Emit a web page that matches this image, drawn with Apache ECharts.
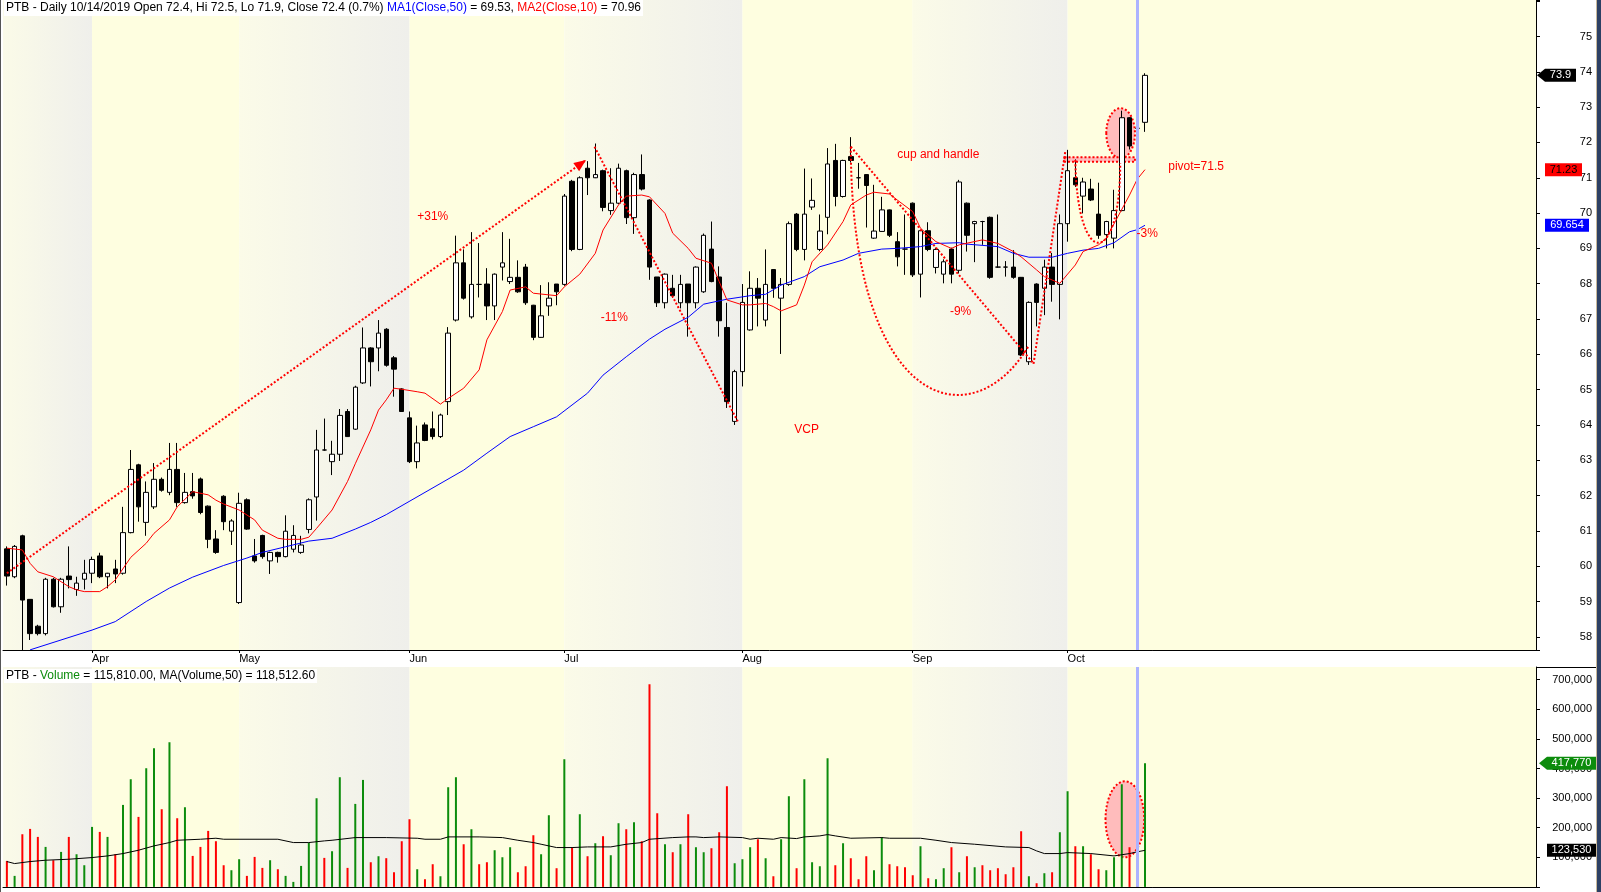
<!DOCTYPE html>
<html>
<head>
<meta charset="utf-8">
<title>PTB - Daily</title>
<script src="https://cdn.jsdelivr.net/npm/echarts@6/dist/echarts.min.js"></script>
<style>
  html, body { margin: 0; padding: 0; background: #fff; }
  #chart { width: 1601px; height: 892px; }
</style>
</head>
<body>
<div id="chart"></div>
<script>
// daily bars, 15 Mar .. 15 Oct 2019
const opens = [
  60.49,59.70,60.86,59.06,58.30,58.09,59.63,58.85,59.72,59.34,
  59.63,59.80,60.29,59.70,59.92,59.80,60.95,62.87,61.24,61.68,
  62.46,62.09,62.74,61.80,62.11,62.47,61.70,60.77,61.98,60.99,
  58.97,61.88,60.29,60.87,60.15,60.39,60.27,60.48,60.39,61.04,
  61.96,63.29,62.96,63.17,64.38,63.88,65.19,66.18,66.18,66.71,
  65.90,65.02,64.20,62.96,64.00,63.89,63.67,64.66,66.97,68.59,
  67.06,67.98,67.99,67.37,68.47,68.06,68.18,68.47,67.39,66.48,
  67.37,67.99,67.98,70.90,68.97,71.27,71.00,71.20,70.07,70.28,
  71.20,69.87,71.09,70.37,68.19,67.46,67.87,67.46,67.99,67.46,
  67.77,68.98,68.19,66.76,64.10,65.51,66.69,67.87,66.97,68.40,
  67.59,67.98,69.97,68.97,70.17,68.97,69.88,71.49,70.47,71.60,
  71.00,71.09,69.29,69.48,70.09,69.19,68.98,70.28,68.27,69.50,
  68.46,68.27,68.98,68.38,70.28,69.70,69.76,69.88,68.47,68.47,
  68.47,68.18,65.79,67.99,67.87,68.47,67.98,69.70,71.00,70.48,
  70.68,69.97,69.39,69.29,70.07,72.70,72.40,72.57
];
const closes = [
  59.72,60.56,59.04,58.09,58.09,59.63,58.85,59.63,59.62,59.52,
  59.80,60.19,59.70,59.80,59.78,60.95,62.74,61.68,62.09,62.46,
  62.15,62.74,61.80,62.09,61.99,61.52,60.76,60.39,61.26,61.28,
  61.78,61.05,60.15,60.27,60.39,60.27,60.99,60.87,60.60,61.88,
  63.29,63.29,63.17,64.27,63.67,65.07,66.18,65.79,66.60,65.69,
  65.58,64.38,62.96,63.49,63.56,63.67,64.28,66.60,68.59,67.59,
  67.98,67.98,67.37,68.27,68.59,68.18,67.77,67.46,66.48,67.09,
  67.59,67.77,70.48,68.97,71.00,71.00,71.09,70.16,70.28,71.27,
  69.87,71.09,70.68,68.47,67.46,68.27,67.66,67.98,67.46,68.47,
  69.37,68.06,66.95,64.66,65.51,67.47,67.87,67.59,67.98,67.87,
  67.98,69.70,68.97,69.97,70.36,69.49,71.39,70.47,71.49,71.49,
  71.00,70.78,69.49,70.09,69.37,68.76,68.98,68.25,69.50,68.97,
  68.97,68.62,68.27,70.88,69.37,69.76,69.76,68.18,68.47,68.47,
  68.18,65.98,67.47,67.47,68.47,67.98,69.70,71.20,70.80,70.88,
  70.37,69.37,69.76,70.07,72.70,71.90,72.40,73.90
];
const lows = [
  59.45,59.66,57.60,57.91,58.04,58.04,58.83,58.68,59.37,59.16,
  59.34,59.52,59.66,59.37,59.52,59.76,60.93,61.26,60.86,61.62,
  62.11,62.01,61.68,61.77,61.91,61.47,60.51,60.35,61.02,60.60,
  58.93,61.03,60.10,60.21,59.78,60.10,60.25,60.39,60.35,60.93,
  61.29,63.27,62.58,62.98,63.66,63.86,65.16,65.09,65.52,65.65,
  64.80,64.37,62.92,62.77,63.54,63.59,63.63,64.28,66.93,67.55,
  67.01,67.61,66.97,66.97,68.09,67.99,67.74,67.40,66.40,66.47,
  67.09,67.39,67.94,68.92,68.95,70.51,70.99,70.05,69.95,70.25,
  69.69,69.41,70.64,68.11,67.34,67.30,67.60,67.30,66.50,67.30,
  67.74,68.04,66.50,64.48,64.00,65.09,66.67,66.79,66.79,67.60,
  66.01,67.94,68.92,68.66,70.09,68.92,69.40,70.19,70.44,71.43,
  70.69,69.59,69.27,69.47,69.32,68.49,68.25,68.19,67.61,68.92,
  68.29,68.01,68.01,68.29,68.91,68.61,69.10,68.14,68.45,68.20,
  68.14,65.95,65.70,66.79,67.11,67.49,66.99,69.19,70.74,69.99,
  70.34,69.27,69.00,69.00,70.05,71.80,71.90,72.30
];
const highs = [
  60.56,60.60,60.89,59.07,58.34,59.67,59.67,59.67,60.56,59.70,
  60.18,60.27,60.38,59.81,60.18,61.68,63.29,62.90,62.40,62.92,
  62.51,63.49,63.49,62.64,62.64,62.51,61.72,61.02,62.01,61.33,
  62.08,61.92,60.77,60.89,60.41,60.41,61.44,61.16,60.86,61.92,
  63.86,64.18,63.55,64.45,64.45,65.11,66.76,66.20,66.97,66.74,
  65.95,65.04,64.38,63.98,64.07,64.38,64.32,66.77,69.36,68.97,
  69.46,69.15,68.44,68.29,69.46,69.27,68.66,68.56,67.40,67.96,
  68.04,67.99,70.54,70.94,71.04,71.47,71.97,71.23,71.27,71.40,
  71.23,71.14,71.66,70.39,68.19,68.29,68.25,68.25,67.99,68.49,
  69.42,69.76,68.49,67.46,65.56,67.99,68.35,68.16,68.97,68.41,
  68.16,69.76,70.00,71.26,70.98,69.96,71.84,71.96,71.51,72.15,
  71.42,71.10,70.80,70.46,70.10,69.46,69.96,70.30,69.52,69.74,
  69.02,68.69,69.02,70.94,70.30,69.78,69.78,69.90,69.96,68.64,
  68.95,68.19,67.50,68.01,68.68,68.87,69.96,71.79,71.52,71.00,
  70.97,70.86,69.78,70.66,72.90,72.72,72.50,73.96
];
const volumes = [
  87800,37200,177900,195900,168900,135100,90100,118200,168900,110300,
  73200,202700,185800,168900,110300,277000,363700,236500,400900,468400,
  262400,488700,232000,269100,104700,135100,189200,154300,73200,56300,
  93500,37200,101300,64200,90100,59700,37200,16900,70900,148600,
  299500,98000,120500,370500,64200,280400,361400,83300,103600,97000,
  49500,154300,228600,59700,25900,76600,36000,336700,370500,144100,
  194800,76600,83300,123900,100200,134000,49500,69800,174500,110300,
  242100,63100,431300,132900,245500,103600,147500,171200,107000,215100,
  194800,218400,154300,684600,248800,144100,117100,144100,245500,134000,
  117100,130600,184700,340100,79900,93500,134000,161000,96800,36000,
  161000,306300,63100,363700,83300,69800,434600,73200,147500,96800,
  25900,103600,56300,167800,76600,69800,66400,39400,137400,29300,
  25900,63100,134000,49500,103600,66400,73200,56300,63100,42800,
  66400,188000,36000,12400,46200,49500,184700,323200,137400,137400,
  110300,59700,56300,100200,346800,134000,115810,417770
];

// moving averages: [bar number, value]
const ma50 = [[4,57.63],[12,58.19],[15,58.43],[19,59.00],[22,59.38],[25,59.69],[29,60.02],[32,60.23],
  [34,60.39],[37,60.55],[40,60.71],[43,60.79],[46,61.05],[48,61.24],[50,61.46],[60,62.72],[63,63.20],
  [66,63.67],[69,63.95],[72,64.23],[76,64.90],[78,65.41],[81,65.93],[84,66.43],[86,66.71],[89,67.05],
  [91,67.42],[94,67.56],[97,67.66],[99,67.70],[101,67.96],[104,68.20],[106,68.48],[109,68.67],
  [111,68.86],[114,68.98],[116,69.00],[119,69.05],[121,69.14],[124,69.16],[125,69.12],[129,69.05],
  [131,68.86],[133,68.75],[136,68.75],[138,68.86],[140,68.95],[142,69.00],[144,69.16],[146,69.47],
  [147,69.53],[148,69.654]];
const ma10 = [[1,60.51],[3,60.46],[4,60.08],[5,59.84],[7,59.70],[9,59.42],[10,59.33],[11,59.28],
  [13,59.28],[14,59.42],[15,59.61],[17,60.25],[19,60.65],[20,60.93],[22,61.31],[23,61.68],[25,62.11],
  [27,62.02],[28,61.87],[29,61.76],[31,61.59],[33,61.31],[34,61.02],[36,60.79],[37,60.76],[39,60.76],
  [40,60.82],[41,61.07],[43,61.59],[45,62.40],[46,62.90],[48,63.86],[49,64.42],[50,64.71],[51,65.04],
  [52,65.01],[54,64.94],[55,64.90],[57,64.59],[58,64.75],[60,65.04],[62,65.56],[63,66.41],[65,67.21],
  [66,67.82],[68,67.91],[69,67.73],[72,67.66],[73,67.91],[75,68.27],[77,68.86],[78,69.52],[80,70.23],
  [81,70.48],[83,70.51],[84,70.46],[86,69.99],[87,69.43],[89,69.00],[90,68.72],[92,68.58],[93,68.06],
  [94,67.54],[96,67.40],[97,67.40],[99,67.44],[100,67.35],[101,67.23],[103,67.40],[104,67.96],
  [105,68.62],[107,69.10],[109,69.76],[110,70.23],[112,70.51],[113,70.59],[115,70.54],[116,70.37],
  [118,70.04],[119,69.57],[121,69.19],[123,69.00],[124,69.10],[127,69.24],[129,69.14],[131,68.91],
  [132,68.76],[134,68.39],[135,68.20],[137,68.01],[139,68.53],[140,68.91],[142,69.10],[143,69.29],
  [146,70.51],[147,70.96],[148,71.23]];
const volMa50 = [[1,85600],[2,78800],[4,85600],[6,90100],[9,93500],[12,99100],[14,104700],[16,112600],
  [18,123900],[20,138500],[22,149800],[23,157600],[26,161000],[28,164400],[29,161000],[36,161000],
  [38,149800],[40,149800],[42,155400],[43,157600],[46,166600],[50,166600],[54,164400],[55,161000],
  [57,161000],[58,168900],[62,168900],[65,166600],[67,157600],[69,149800],[70,144100],[71,138500],
  [72,132900],[74,132900],[76,135100],[79,135100],[81,144100],[83,149800],[84,161000],[87,166600],
  [89,168900],[90,168900],[91,166600],[93,168900],[96,166600],[97,161000],[98,164400],[100,161000],
  [101,166600],[103,163300],[104,168900],[106,172300],[107,176800],[108,172300],[110,164400],
  [114,166600],[115,164400],[119,164400],[121,157600],[123,149800],[126,144100],[130,135100],
  [133,132900],[134,121600],[135,112600],[137,112600],[138,116000],[141,112600],[144,104700],
  [146,112600],[147,118512.6],[148,123530]];

// axis: first bar of each month, slots incl. empty right margin
const monthStarts = [11, 30, 52, 72, 95, 117, 137];
const monthNames = ['Apr', 'May', 'Jun', 'Jul', 'Aug', 'Sep', 'Oct'];
const totalSlots = 198;
const cursorBar = 146;
const cursorDate = '10/14/2019';

// hand drawn notes, [bar position, price]
const trendUp = [[0, 59.80], [74.8, 71.50]];
const vcpLeg = [[75.9, 71.88], [94.4, 64.10]];
const cupLeg = [[109.0, 71.88], [132.5, 65.77]];
const cupRise = [[132.6, 65.73], [136.7, 71.74]];
const cupCurve = [[109.0, 71.88], [109.1, 64.42], [124.6, 63.57], [131.9, 66.21]];
const handleCurve = [[138.0, 71.50], [138.2, 68.39], [143.8, 68.39], [143.8, 71.42]];
const pivotBox = [[136.6, 71.58], [145.7, 71.45]];
const breakoutPrice = [[142.0, 72.97], [145.7, 71.55]];
const breakoutVolume = [[141.9, 356800], [146.9, 100000]];
const notes = [['+31%', 53.0, 69.90], ['-11%', 76.7, 67.04], ['VCP', 101.7, 63.86],
  ['cup and handle', 115.0, 71.64], ['-9%', 121.8, 67.21], ['pivot=71.5', 150.0, 71.31], ['-3%', 145.9, 69.43]];

const FONT = '"Liberation Sans", Arial, sans-serif';
const RED = '#ff0000';
const GREEN = '#0c8c0c';
const slots = Array.from({ length: totalSlots }, (_, i) => String(i));
const isMonthStart = (i) => monthStarts.indexOf(i) >= 0;
const valueAt = (list, n) => list.find(p => p[0] === n)[1];
const toPairs = (list) => list.map(([n, v]) => [String(n - 1), v]);

function bands() {
  const edges = [null].concat(monthStarts, [null]);
  const out = [];
  for (let k = 0; k < edges.length - 1; k++) {
    const a = edges[k] == null ? {} : { xAxis: String(edges[k]) };
    const b = edges[k + 1] == null ? {} : { xAxis: String(edges[k + 1]) };
    a.itemStyle = {
      color: k % 2 === 0
        ? { type: 'linear', x: 0, y: 0, x2: 1, y2: 0,
            colorStops: [{ offset: 0, color: '#fbfbe8' }, { offset: 1, color: '#efefeb' }] }
        : '#fefee0'
    };
    out.push([a, b]);
  }
  return out;
}
const cursor = {
  silent: true, symbol: ['none', 'none'], label: { show: false },
  lineStyle: { color: '#acb3ff', width: 3, type: 'solid' },
  data: [{ xAxis: String(cursorBar) }]
};

const bar = cursorBar;
const pct = ((closes[bar] / closes[bar - 1] - 1) * 100).toFixed(1);
const money = (v) => v.toLocaleString('en-US', { minimumFractionDigits: 2, maximumFractionDigits: 2 });
const head = 'PTB - Daily ' + cursorDate + ' Open ' + opens[bar] + ', Hi ' + highs[bar] + ', Lo ' + lows[bar] +
  ', Close ' + closes[bar] + ' (' + pct + '%) ';
const rich = {
  k: { color: '#000', fontFamily: FONT, fontSize: 12 },
  b: { color: '#0000ff', fontFamily: FONT, fontSize: 12 },
  r: { color: RED, fontFamily: FONT, fontSize: 12 },
  g: { color: GREEN, fontFamily: FONT, fontSize: 12 }
};

const chart = echarts.init(document.getElementById('chart'));
chart.setOption({
  animation: false,
  backgroundColor: '#ffffff',
  title: [
    { left: 4, top: 0, padding: [2, 2, 2, 2], backgroundColor: '#fff', z: 20,
      text: '{k|' + head + '}{b|MA1(Close,50)}{k| = ' + valueAt(ma50, bar + 1) + ', }{r|MA2(Close,10)}{k| = ' + valueAt(ma10, bar + 1) + '}',
      textStyle: { fontFamily: FONT, fontSize: 12, fontWeight: 'normal', rich: rich } },
    { left: 4, top: 669, padding: [1, 2, 1, 2], backgroundColor: '#fff', z: 20,
      text: '{k|PTB - }{g|Volume}{k| = ' + money(volumes[bar]) + ', MA(Volume,50) = ' + money(valueAt(volMa50, bar + 1)) + '}',
      textStyle: { fontFamily: FONT, fontSize: 12, fontWeight: 'normal', rich: rich } }
  ],
  grid: [
    { left: 3, right: 65, top: 0, height: 650, containLabel: false, outerBoundsMode: 'none' },
    { left: 3, right: 65, top: 667, height: 219.9, containLabel: false, outerBoundsMode: 'none' }
  ],
  xAxis: [
    { type: 'category', gridIndex: 0, data: slots, boundaryGap: true, z: 10,
      axisLine: { lineStyle: { color: '#000', width: 1 } },
      axisTick: { show: true, interval: isMonthStart, alignWithLabel: true, length: 3, lineStyle: { color: '#000' } },
      axisLabel: { interval: isMonthStart, formatter: (v) => monthNames[monthStarts.indexOf(Number(v))] || '',
        align: 'left', margin: 3, color: '#000', fontSize: 11, fontFamily: FONT },
      splitLine: { show: false } },
    { type: 'category', gridIndex: 1, data: slots, boundaryGap: true, position: 'top', z: 10,
      axisLine: { lineStyle: { color: '#000', width: 1 } },
      axisTick: { show: false }, axisLabel: { show: false }, splitLine: { show: false } }
  ],
  yAxis: [
    { type: 'value', gridIndex: 0, position: 'right', min: 57.626, max: 76.034,
      splitNumber: 18, minInterval: 1, maxInterval: 1, z: 10,
      axisLine: { show: true, lineStyle: { color: '#000' } },
      axisTick: { show: true, length: 4, lineStyle: { color: '#000' } },
      axisLabel: { formatter: (v) => (Math.abs(v - Math.round(v)) < 1e-6 && v <= 75) ? String(Math.round(v)) : '',
        align: 'right', margin: 56, color: '#000', fontSize: 11, fontFamily: FONT },
      splitLine: { show: false } },
    { type: 'value', gridIndex: 1, position: 'right', min: 0, max: 742900, interval: 100000, z: 10,
      axisLine: { show: true, lineStyle: { color: '#000' } },
      axisTick: { show: true, length: 4, lineStyle: { color: '#000' } },
      axisLabel: { formatter: (v) => (v > 0 && v <= 700000 && v % 100000 === 0) ? v.toLocaleString('en-US') : '',
        align: 'right', margin: 56, color: '#000', fontSize: 11, fontFamily: FONT },
      splitLine: { show: false } }
  ],
  series: [
    { type: 'candlestick', name: 'PTB', xAxisIndex: 0, yAxisIndex: 0, z: 3, silent: true,
      data: opens.map((o, i) => [o, closes[i], lows[i], highs[i]]),
      barWidth: 5,
      itemStyle: { color: '#ffffff', color0: '#000000', borderColor: '#000000', borderColor0: '#000000',
        borderColorDoji: '#000000', borderWidth: 1 },
      markArea: { silent: true, z: 1, label: { show: false }, data: bands() },
      markLine: cursor },
    { type: 'line', name: 'MA1', xAxisIndex: 0, yAxisIndex: 0, z: 4, silent: true,
      data: toPairs(ma50), symbol: 'none', lineStyle: { color: '#0000ff', width: 1 } },
    { type: 'line', name: 'MA2', xAxisIndex: 0, yAxisIndex: 0, z: 4, silent: true,
      data: toPairs(ma10), symbol: 'none', lineStyle: { color: RED, width: 1 } },
    { type: 'bar', name: 'Volume', xAxisIndex: 1, yAxisIndex: 1, z: 3, silent: true, barWidth: 2,
      data: volumes.map((v, i) => ({ value: v, itemStyle: { color: closes[i] > opens[i] ? GREEN : RED } })) },
    { type: 'line', name: 'MA(Volume,50)', xAxisIndex: 1, yAxisIndex: 1, z: 4, silent: true,
      data: toPairs(volMa50), symbol: 'none', lineStyle: { color: '#000', width: 1 },
      markArea: { silent: true, z: 1, label: { show: false }, data: bands() },
      markLine: cursor }
  ]
});

// pixel of a (possibly fractional) bar position through the axes
function at(seriesIndex, idx, val) {
  const a = chart.convertToPixel({ seriesIndex: seriesIndex }, ['0', val]);
  const b = chart.convertToPixel({ seriesIndex: seriesIndex }, ['1', val]);
  return [a[0] + idx * (b[0] - a[0]), a[1]];
}
const dash = { stroke: RED, lineWidth: 2, lineDash: [2, 2], fill: 'none' };
function seg(pts) {
  const p = at(0, pts[0][0], pts[0][1]), q = at(0, pts[1][0], pts[1][1]);
  return { type: 'line', z: 20, silent: true, shape: { x1: p[0], y1: p[1], x2: q[0], y2: q[1] }, style: dash };
}
function curve(pts) {
  const c = pts.map(([i, v]) => at(0, i, v));
  return { type: 'bezierCurve', z: 20, silent: true,
    shape: { x1: c[0][0], y1: c[0][1], cpx1: c[1][0], cpy1: c[1][1], cpx2: c[2][0], cpy2: c[2][1], x2: c[3][0], y2: c[3][1] },
    style: dash };
}
function oval(seriesIndex, box) {
  const a = at(seriesIndex, box[0][0], box[0][1]), b = at(seriesIndex, box[1][0], box[1][1]);
  return { type: 'ellipse', z: 2.5, silent: true,
    shape: { cx: (a[0] + b[0]) / 2, cy: (a[1] + b[1]) / 2, rx: Math.abs(b[0] - a[0]) / 2, ry: Math.abs(b[1] - a[1]) / 2 },
    style: { fill: '#ffbcbc', stroke: RED, lineWidth: 2, lineDash: [2, 2] } };
}
function arrowHead(pts) {
  const p = at(0, pts[0][0], pts[0][1]), q = at(0, pts[1][0], pts[1][1]);
  const ang = Math.atan2(q[1] - p[1], q[0] - p[0]);
  const L = 12, W = 5, c = Math.cos(ang), s = Math.sin(ang);
  return { type: 'polygon', z: 20, silent: true, style: { fill: RED },
    shape: { points: [[q[0], q[1]], [q[0] - L * c + W * s, q[1] - L * s - W * c], [q[0] - L * c - W * s, q[1] - L * s + W * c]] } };
}
function label(t, i, v) {
  const p = at(0, i, v);
  return { type: 'text', z: 20, silent: true, x: p[0], y: p[1],
    style: { text: t, fill: RED, font: '12px ' + FONT, verticalAlign: 'middle', textVerticalAlign: 'middle' } };
}
const axisX = chart.getWidth() - 65;
function tag(seriesIndex, value, text, bg, fg, arrow, x0, x1) {
  const y = chart.convertToPixel({ seriesIndex: seriesIndex }, ['0', value])[1];
  const h = 6.5, l = axisX + x0, r = axisX + x1;
  const pts = arrow
    ? [[l - 8, y], [l, y - h], [r, y - h], [r, y + h], [l, y + h]]
    : [[l, y - h], [r, y - h], [r, y + h], [l, y + h]];
  return [
    { type: 'polygon', z: 30, silent: true, shape: { points: pts }, style: { fill: bg } },
    { type: 'text', z: 31, silent: true, x: (l + r) / 2, y: y,
      style: { text: text, fill: fg, font: '11px ' + FONT, align: 'center', verticalAlign: 'middle',
        textAlign: 'center', textVerticalAlign: 'middle' } }
  ];
}
const pa = at(0, pivotBox[0][0], pivotBox[0][1]), pb = at(0, pivotBox[1][0], pivotBox[1][1]);
const last = closes.length - 1;
const elements = [
  oval(0, breakoutPrice),
  oval(3, breakoutVolume),
  { type: 'rect', z: 2.5, silent: true, shape: { x: pa[0], y: pa[1], width: pb[0] - pa[0], height: pb[1] - pa[1] },
    style: { fill: '#ffbcbc', stroke: RED, lineWidth: 2, lineDash: [2, 2] } },
  seg(trendUp), arrowHead(trendUp), seg(vcpLeg), seg(cupLeg), seg(cupRise),
  curve(cupCurve), curve(handleCurve)
].concat(notes.map(n => label(n[0], n[1], n[2])))
 .concat(tag(0, closes[last], String(closes[last]), '#000', '#fff', true, 9, 40))
 .concat(tag(0, ma10[ma10.length - 1][1], String(ma10[ma10.length - 1][1]), RED, '#000', false, 9, 46))
 .concat(tag(0, ma50[ma50.length - 1][1], String(ma50[ma50.length - 1][1]), '#0000ff', '#fff', false, 9, 53))
 .concat(tag(3, volumes[last], volumes[last].toLocaleString('en-US'), GREEN, '#fff', true, 11, 60))
 .concat(tag(3, volMa50[volMa50.length - 1][1], volMa50[volMa50.length - 1][1].toLocaleString('en-US'), '#000', '#fff', false, 11, 60))
 .concat([
  { type: 'line', z: 10, silent: true, shape: { x1: axisX, y1: 667.5, x2: 1597, y2: 667.5 }, style: { stroke: '#000', lineWidth: 1 } },
  { type: 'rect', z: 40, silent: true, shape: { x: 0, y: 0, width: 1, height: 892 }, style: { fill: '#555' } },
  { type: 'rect', z: 40, silent: true, shape: { x: 1596, y: 0, width: 1, height: 892 }, style: { fill: '#c8b89a' } },
  { type: 'rect', z: 40, silent: true, shape: { x: 1597, y: 0, width: 4, height: 892 }, style: { fill: '#2d4064' } }
 ]);
chart.setOption({ graphic: { elements: elements } });
</script>
</body>
</html>
